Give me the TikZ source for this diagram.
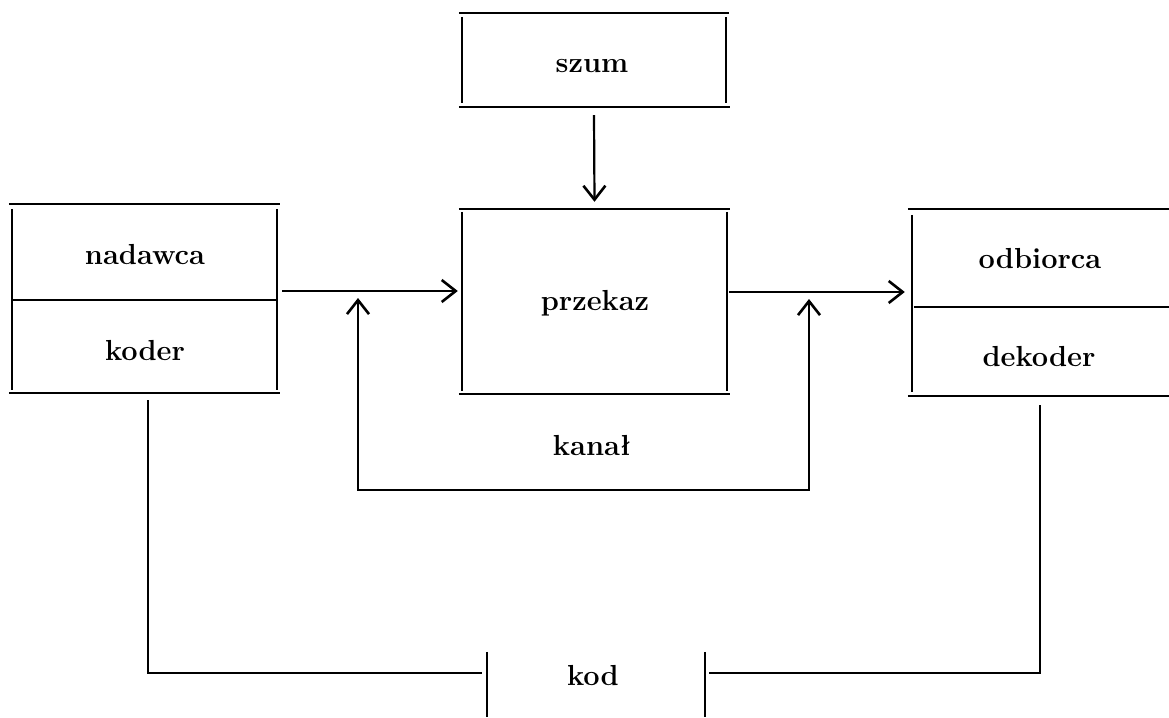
\documentclass[tikz,border=0pt]{standalone}
\usetikzlibrary{arrows.meta}
\begin{document}
\begin{tikzpicture}[x=1pt,y=-1pt,
  edge/.style={line width=2.2pt},
  arr/.style={line width=2.2pt,-{Straight Barb[length=14pt,width=22pt,line width=2.6pt]}},
  lbl/.style={font=\fontsize{29}{34}\selectfont\bfseries, inner sep=0pt, anchor=base},
  blk/.style={rectangle, inner sep=0pt}]
\useasboundingbox (0,0) rectangle (1169,717);

% block outlines (frames are drawn below, line by line)
\node[blk, minimum width=264pt, minimum height=94pt] (szum) at (594,60) {};
\node[blk, minimum width=265pt, minimum height=185pt] (przekaz) at (594.5,301.5) {};
\node[blk, minimum width=265pt, minimum height=96pt] (nadawca) at (144.5,252) {};
\node[blk, minimum width=265pt, minimum height=93pt] (koder) at (144.5,346.5) {};
\node[blk, minimum width=265pt, minimum height=98pt] (odbiorca) at (1044.5,258) {};
\node[blk, minimum width=265pt, minimum height=89pt] (dekoder) at (1044.5,351.5) {};
\node[blk, minimum width=218pt, minimum height=65pt] (kod) at (596,684.5) {};

% texts, placed on their baselines
\node[lbl] (szumT) at (592,73) {szum};
\node[lbl] (przekazT) at (595,310) {przekaz};
\node[lbl] (nadawcaT) at (145,264) {nadawca};
\node[lbl] (koderT) at (145,360) {koder};
\node[lbl] (odbiorcaT) at (1040,268) {odbiorca};
\node[lbl] (dekoderT) at (1039,366) {dekoder};
\node[lbl] (kodT) at (593,685) {kod};
\node[lbl] (kanal) at (592,455) {kanał};

% frames of the blocks
\draw[edge] ([xshift=-3pt]szum.north west) -- ([xshift=3pt]szum.north east);
\draw[edge] ([xshift=-3pt]szum.south west) -- ([xshift=4pt]szum.south east);
\draw[edge] ([yshift=-4pt]szum.north west) -- ([yshift=4pt]szum.south west);
\draw[edge] ([yshift=-4pt]szum.north east) -- ([yshift=4pt]szum.south east);

\draw[edge] ([xshift=-3pt]przekaz.north west) -- ([xshift=3pt]przekaz.north east);
\draw[edge] ([xshift=-3pt]przekaz.south west) -- ([xshift=3pt]przekaz.south east);
\draw[edge] ([yshift=-3pt]przekaz.north west) -- ([yshift=3pt]przekaz.south west);
\draw[edge] ([yshift=-3pt]przekaz.north east) -- ([yshift=3pt]przekaz.south east);

\draw[edge] ([xshift=-3pt]nadawca.north west) -- ([xshift=3pt]nadawca.north east);
\draw[edge] (nadawca.south west) -- (nadawca.south east);
\draw[edge] ([xshift=-3pt]koder.south west) -- ([xshift=3pt]koder.south east);
\draw[edge] ([yshift=-5pt]nadawca.north west) -- ([yshift=3pt]koder.south west);
\draw[edge] ([yshift=-5pt]nadawca.north east) -- ([yshift=3pt]koder.south east);

\draw[edge] ([xshift=-4pt]odbiorca.north west) -- (odbiorca.north east);
\draw[edge] ([xshift=2pt]odbiorca.south west) -- (odbiorca.south east);
\draw[edge] ([xshift=-4pt]dekoder.south west) -- (dekoder.south east);
\draw[edge] ([yshift=-6pt]odbiorca.north west) -- ([yshift=4pt]dekoder.south west);

\draw[edge] (kod.north west) -- (kod.south west);
\draw[edge] (kod.north east) -- (kod.south east);

% corners of the channel loop and of the code lines
\coordinate (jl) at (358,291);
\coordinate (jr) at (809,292);
\coordinate (bl) at (358,490);
\coordinate (br) at (809,490);
\coordinate (cl) at (148,673);
\coordinate (cr) at (1040,673);

% connectors
\draw[arr] ([yshift=-8pt]szum.south) -- ([yshift=7pt]przekaz.north);
\draw[arr] ([xshift=5pt]nadawca.east |- jl) -- ([xshift=-4pt]przekaz.west |- jl);
\draw[arr] ([xshift=2pt]przekaz.east |- jr) -- ([xshift=-7pt]odbiorca.west |- jr);
\draw[arr] (bl) -- ([yshift=-7pt]jl);
\draw[arr] (br) -- ([yshift=-7pt]jr);
\draw[edge] ([xshift=-1pt]bl) -- ([xshift=1pt]br);

\draw[edge] (koder.south -| cl) ++(0,7) -- (cl) -- ([xshift=-5pt]kod.west |- cl);
\draw[edge] (dekoder.south -| cr) ++(0,9) -- (cr) -- ([xshift=4pt]kod.east |- cr);
\end{tikzpicture}
\end{document}
